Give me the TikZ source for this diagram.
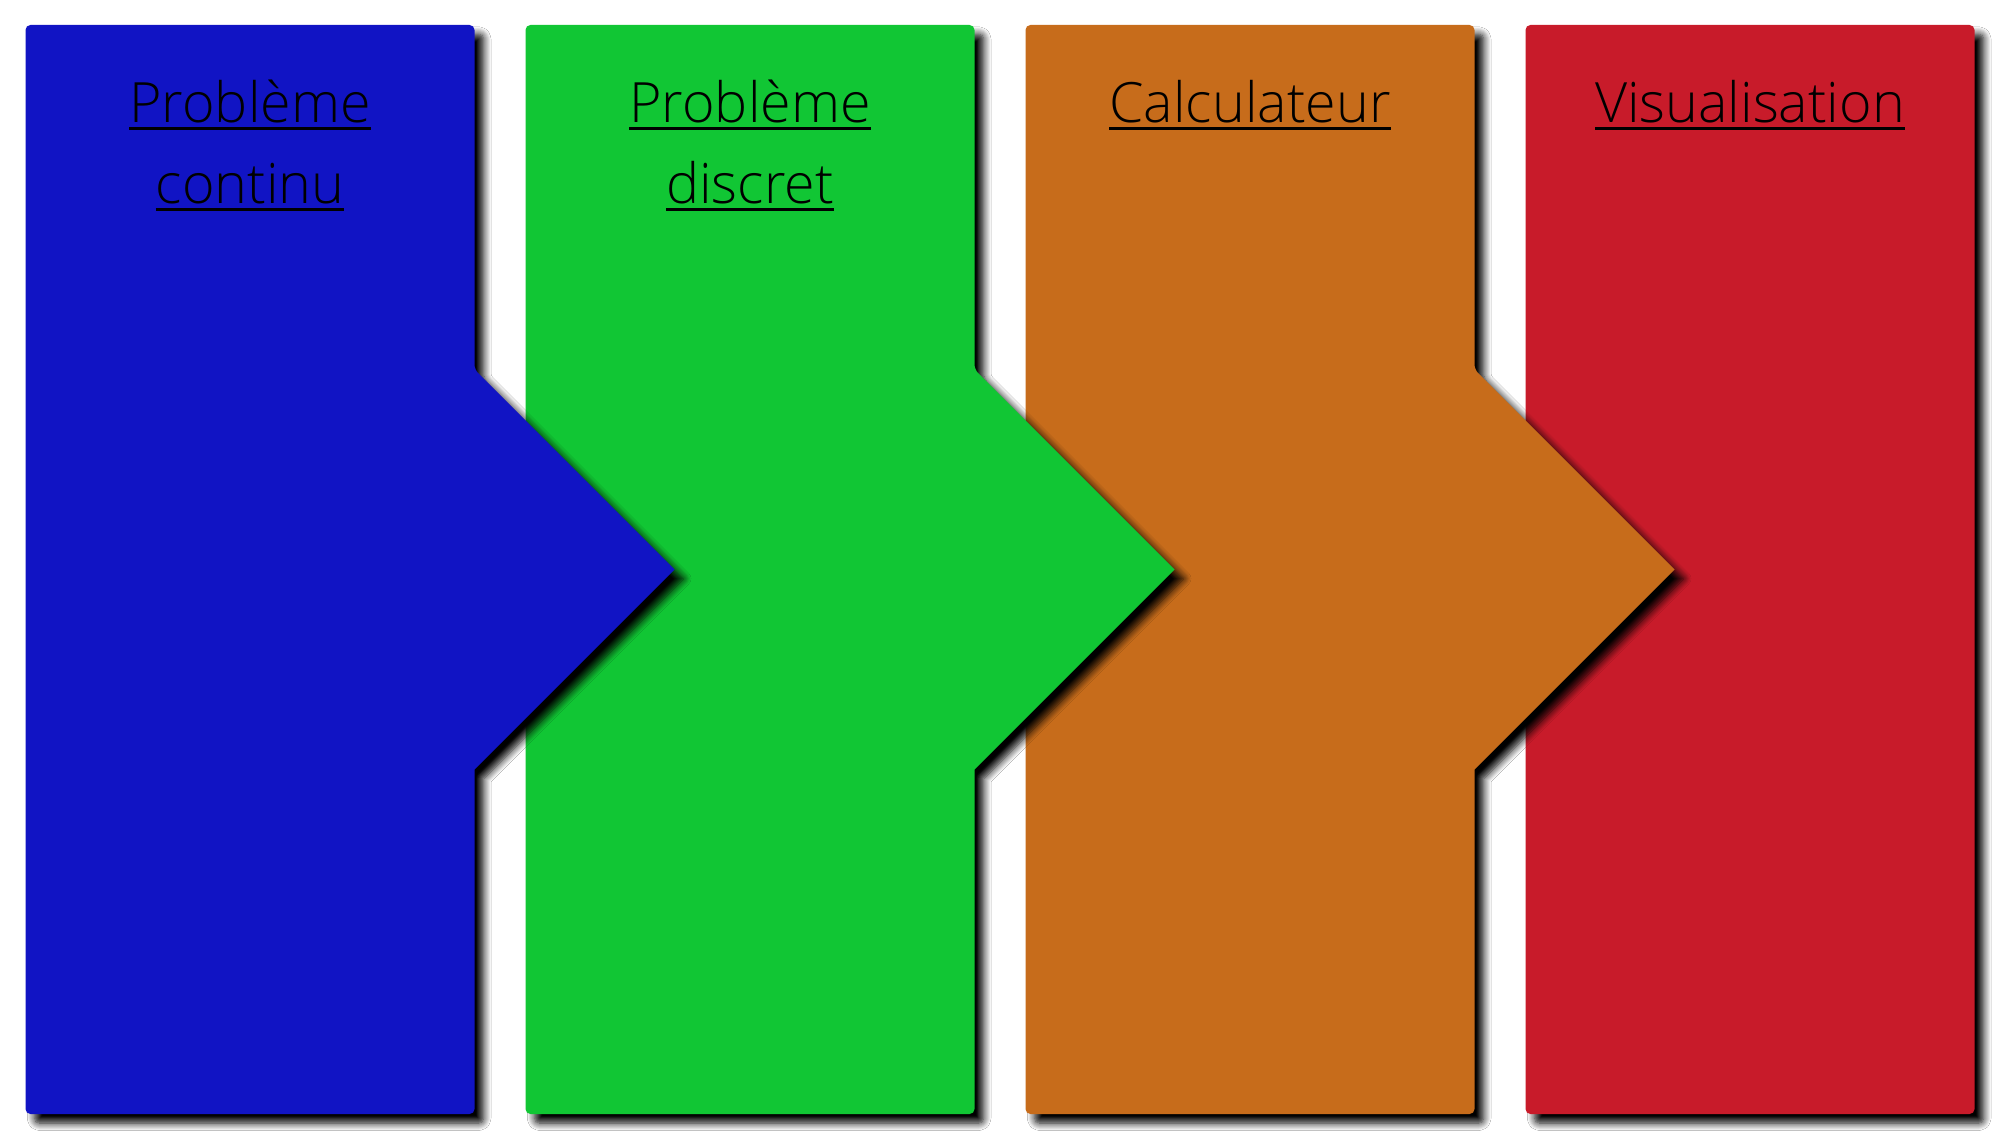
\documentclass[tikz,border=0pt]{standalone}
\usepackage{fontspec}
\setmainfont{Open Sans}[UprightFont=* Light]
\usetikzlibrary{shadows.blur}
\definecolor{cblue}{RGB}{17,20,196}
\definecolor{cgreen}{RGB}{17,198,52}
\definecolor{corange}{RGB}{199,108,27}
\definecolor{cred}{RGB}{200,27,42}
\newcommand\myul[1]{\sbox0{#1}\rlap{\rule[-2.1pt]{\wd0}{0.95pt}}\usebox0}
\tikzset{
  panel/.style={fill=#1, rounded corners=1.4pt,
    blur shadow={shadow xshift=2.6pt, shadow yshift=-2.6pt, shadow blur radius=2.1pt, shadow opacity=100, shadow blur steps=8}},
  lbl/.style={anchor=base, font=\fontsize{15.8}{19}\selectfont, text=black, inner sep=0pt}
}
\begin{document}
\begin{tikzpicture}[x=0.01cm,y=-0.01cm]
\useasboundingbox (0,0) rectangle (2000,1140);
\fill[white] (0,0) rectangle (2000,1140);
% red
\path[panel=cred] (1525.5,25) rectangle (1974.5,1114);
% orange
\path[panel=corange] (1025.5,25) -- (1474.5,25) -- (1474.5,369.5) [sharp corners] -- (1674.5,569.5) -- (1474.5,769.5) [rounded corners=1.4pt] -- (1474.5,1114) -- (1025.5,1114) -- cycle;
% green
\path[panel=cgreen] (525.5,25) -- (974.5,25) -- (974.5,369.5) [sharp corners] -- (1174.5,569.5) -- (974.5,769.5) [rounded corners=1.4pt] -- (974.5,1114) -- (525.5,1114) -- cycle;
% blue
\path[panel=cblue] (25.5,25) -- (474.5,25) -- (474.5,369.5) [sharp corners] -- (674.5,569.5) -- (474.5,769.5) [rounded corners=1.4pt] -- (474.5,1114) -- (25.5,1114) -- cycle;
% labels
\node[lbl] (b1) at (250,123) {\myul{Problème}};
\node[lbl] (b2) at (250,204) {\myul{continu}};
\node[lbl] (g1) at (750,123) {\myul{Problème}};
\node[lbl] (g2) at (750,204) {\myul{discret}};
\node[lbl] (o1) at (1250,123) {\myul{Calculateur}};
\node[lbl] (r1) at (1750,123) {\myul{Visualisation}};
\end{tikzpicture}
\end{document}
